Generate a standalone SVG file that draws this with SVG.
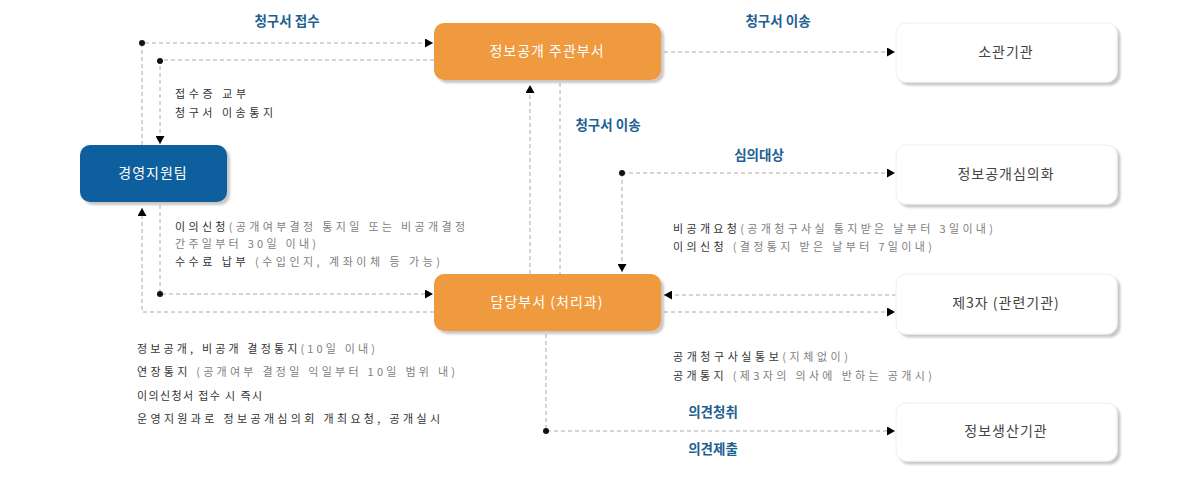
<svg xmlns="http://www.w3.org/2000/svg" width="1200" height="481" viewBox="0 0 1200 481">
<defs>
<marker id="arr" markerUnits="userSpaceOnUse" markerWidth="9" markerHeight="9" refX="8" refY="4.5" orient="auto"><path d="M0,0 L8,4.5 L0,9 z" fill="#000"/></marker>
<filter id="sh" x="-10%" y="-10%" width="130%" height="140%"><feDropShadow dx="3" dy="3" stdDeviation="1" flood-color="#000" flood-opacity="0.22"/></filter>
</defs>
<style>
.ln{fill:none;stroke:#aaa;stroke-width:1;stroke-dasharray:4 3}
.dot{fill:#111}
.lbl{font-family:"Noto Sans CJK KR","Noto Sans",sans-serif;font-size:13.5px;font-weight:bold;fill:#1f5f94;text-anchor:middle}
.tx{font-family:"Noto Sans CJK KR","Noto Sans",sans-serif;font-size:11px;fill:#333}
.lt{fill:#808080}
.or{fill:#f09a40}
.bl{fill:#0e5e9d}
.wh{fill:#fff;stroke:#eee;stroke-width:1}
.nt{font-family:"Noto Sans CJK KR","Noto Sans",sans-serif;font-size:14px;text-anchor:middle;letter-spacing:1px}
.ntw{fill:#fff}
.ntd{fill:#444}
</style>
<rect width="1200" height="481" fill="#fff"/>
<g id="connectors">
<path class="ln" d="M142,145 V43 H433" marker-end="url(#arr)"/>
<path class="ln" d="M434,60 H160 V144" marker-end="url(#arr)"/>
<path class="ln" d="M160,205 V294 H433" marker-end="url(#arr)"/>
<path class="ln" d="M434,312 H142 V208" marker-end="url(#arr)"/>
<path class="ln" d="M530,274 V85" marker-end="url(#arr)"/>
<path class="ln" d="M560,83 V274"/>
<path class="ln" d="M664,52 H895" marker-end="url(#arr)"/>
<path class="ln" d="M622,173 H895" marker-end="url(#arr)"/>
<path class="ln" d="M622,173 V272" marker-end="url(#arr)"/>
<path class="ln" d="M896,295 H664" marker-end="url(#arr)"/>
<path class="ln" d="M664,312 H895" marker-end="url(#arr)"/>
<path class="ln" d="M546,334 V431 H895" marker-end="url(#arr)"/>
<circle class="dot" cx="142" cy="43" r="3"/>
<circle class="dot" cx="160" cy="61" r="3"/>
<circle class="dot" cx="160" cy="294" r="3"/>
<circle class="dot" cx="622" cy="173" r="3"/>
<circle class="dot" cx="546" cy="431" r="3"/>
</g>
<g id="n-jugwan"><rect class="or" x="434" y="23" width="227" height="57" rx="10" filter="url(#sh)"/><text class="nt ntw" x="547" y="56">정보공개 주관부서</text></g>
<g id="n-sogwan"><rect class="wh" x="896" y="23" width="221" height="59" rx="10" filter="url(#sh)"/><text class="nt ntd" x="1006" y="57">소관기관</text></g>
<g id="n-simui"><rect class="wh" x="896" y="145" width="221" height="59" rx="10" filter="url(#sh)"/><text class="nt ntd" x="1006" y="179">정보공개심의화</text></g>
<g id="n-gyeongyeong"><rect class="bl" x="80" y="145" width="147" height="57" rx="10" filter="url(#sh)"/><text class="nt ntw" x="153" y="178">경영지원팀</text></g>
<g id="n-damdang"><rect class="or" x="434" y="274" width="227" height="57" rx="10" filter="url(#sh)"/><text class="nt ntw" x="547" y="307">담당부서 (처리과)</text></g>
<g id="n-third"><rect class="wh" x="896" y="274" width="221" height="60" rx="10" filter="url(#sh)"/><text class="nt ntd" x="1006" y="308">제3자 (관련기관)</text></g>
<g id="n-saengsan"><rect class="wh" x="896" y="403" width="221" height="58" rx="10" filter="url(#sh)"/><text class="nt ntd" x="1006" y="436">정보생산기관</text></g>
<g id="labels">
<text class="lbl" x="287" y="26">청구서 접수</text>
<text class="lbl" x="778" y="26">청구서 이송</text>
<text class="lbl" x="608" y="130">청구서 이송</text>
<text class="lbl" x="759" y="160">심의대상</text>
<text class="lbl" x="713" y="417">의견청취</text>
<text class="lbl" x="713" y="454">의견제출</text>
<text class="tx" x="175" y="98" textLength="71" lengthAdjust="spacing">접수증 교부</text>
<text class="tx" x="175" y="117" textLength="98" lengthAdjust="spacing">청구서 이송통지</text>
<text class="tx" x="175" y="231" textLength="290" lengthAdjust="spacing">이의신청<tspan class="lt">(공개여부결정 통지일 또는 비공개결정</tspan></text>
<text class="tx lt" x="175" y="248" textLength="141" lengthAdjust="spacing">간주일부터 30일 이내)</text>
<text class="tx" x="175" y="266" textLength="265" lengthAdjust="spacing">수수료 납부 <tspan class="lt">(수입인지, 계좌이체 등 가능)</tspan></text>
<text class="tx" x="673" y="233" textLength="320" lengthAdjust="spacing">비공개요청<tspan class="lt">(공개청구사실 통지받은 날부터 3일이내)</tspan></text>
<text class="tx" x="673" y="251" textLength="259" lengthAdjust="spacing">이의신청 <tspan class="lt">(결정통지 받은 날부터 7일이내)</tspan></text>
<text class="tx" x="673" y="361" textLength="175" lengthAdjust="spacing">공개청구사실통보<tspan class="lt">(지체없이)</tspan></text>
<text class="tx" x="673" y="380" textLength="259" lengthAdjust="spacing">공개통지 <tspan class="lt">(제3자의 의사에 반하는 공개시)</tspan></text>
<text class="tx" x="137" y="353" textLength="238" lengthAdjust="spacing">정보공개, 비공개 결정통지<tspan class="lt">(10일 이내)</tspan></text>
<text class="tx" x="137" y="376" textLength="318" lengthAdjust="spacing">연장통지 <tspan class="lt">(공개여부 결정일 익일부터 10일 범위 내)</tspan></text>
<text class="tx" x="137" y="400" textLength="125" lengthAdjust="spacing">이의신청서 접수 시 즉시</text>
<text class="tx" x="137" y="423" textLength="303" lengthAdjust="spacing">운영지원과로 정보공개심의회 개최요청, 공개실시</text>
</g>
</svg>
